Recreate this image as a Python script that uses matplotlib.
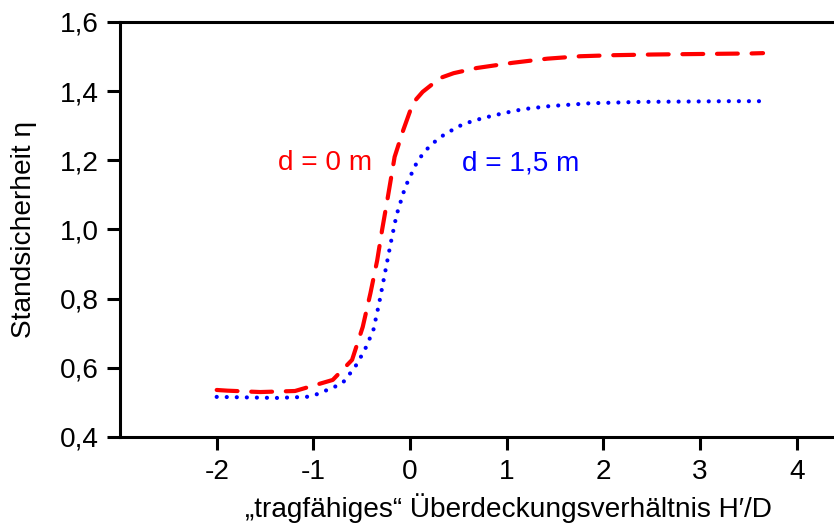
import matplotlib
matplotlib.use("Agg")
import matplotlib.pyplot as plt

plt.rcParams['font.family'] = ['Liberation Sans', 'DejaVu Sans']

# curve d = 0 m
x_d0 = [-2.0, -1.89, -1.55, -1.19, -0.8, -0.6, -0.49, -0.41, -0.34, -0.29, -0.23,
        -0.16, -0.07, 0.03, 0.13, 0.31, 0.45, 0.69, 1.06, 1.42, 1.76, 2.1, 2.51,
        2.83, 3.17, 3.52, 3.65]
eta_d0 = [0.536, 0.534, 0.530, 0.533, 0.565, 0.623, 0.718, 0.816, 0.911, 0.998, 1.094,
          1.21, 1.288, 1.366, 1.398, 1.438, 1.452, 1.467, 1.482, 1.494, 1.501, 1.504, 1.506,
          1.507, 1.508, 1.509, 1.51]

# curve d = 1,5 m
x_d15 = [-2.0, -1.38, -1.07, -0.96, -0.78, -0.69, -0.57, -0.47, -0.38, -0.32, -0.26,
         -0.2, -0.14, -0.05, 0.08, 0.21, 0.36, 0.55, 0.75, 0.96, 1.17, 1.45, 1.86,
         2.38, 2.87, 3.3, 3.61]
eta_d15 = [0.516, 0.513, 0.516, 0.524, 0.545, 0.559, 0.602, 0.651, 0.709, 0.787, 0.874,
           0.961, 1.042, 1.123, 1.2, 1.244, 1.276, 1.305, 1.322, 1.336, 1.348, 1.357, 1.365,
           1.369, 1.37, 1.371, 1.371]

x_ticks = [-2, -1, 0, 1, 2, 3, 4]
x_tick_labels = ['-2', '-1', '0', '1', '2', '3', '4']
y_ticks = [0.4, 0.6, 0.8, 1.0, 1.2, 1.4, 1.6]
y_tick_labels = ['0,4', '0,6', '0,8', '1,0', '1,2', '1,4', '1,6']

fs = 20.2

fig = plt.figure(figsize=(8.34, 5.3), dpi=100)
# axes runs on past the right edge of the figure (cut off like in the original)
ax = fig.add_axes([120 / 834, 93 / 530, 776 / 834, 415 / 530])

ax.plot(x_d0, eta_d0, color='#ff0000', lw=3.0, dashes=(5.0, 3.3),
        dash_capstyle='round', solid_capstyle='round')
ax.plot(x_d15, eta_d15, color='#0000ff', lw=3.0, dashes=(0.01, 2.4),
        dash_capstyle='round')

ax.text(-0.39, 1.192, 'd = 0 m', color='#ff0000', fontsize=fs, ha='right', va='center')
ax.text(0.54, 1.192, 'd = 1,5 m', color='#0000ff', fontsize=fs, ha='left', va='center')

ax.set_xlim(-3, 5.025)
ax.set_ylim(0.4, 1.6)
ax.set_xticks(x_ticks)
ax.set_xticklabels(x_tick_labels)
ax.set_yticks(y_ticks)
ax.set_yticklabels(y_tick_labels)

for s in ['left', 'bottom', 'top', 'right']:
    ax.spines[s].set_linewidth(2.2)
ax.tick_params(axis='both', direction='out', length=9.5, width=2.2,
               labelsize=fs, pad=6)
ax.tick_params(axis='x', top=False)

ax.set_xlabel('„tragfähiges“ Überdeckungsverhältnis H′/D', fontsize=fs, labelpad=6)
ax.set_ylabel('Standsicherheit η', fontsize=fs, labelpad=16)

fig.savefig('out.png', dpi=100)
